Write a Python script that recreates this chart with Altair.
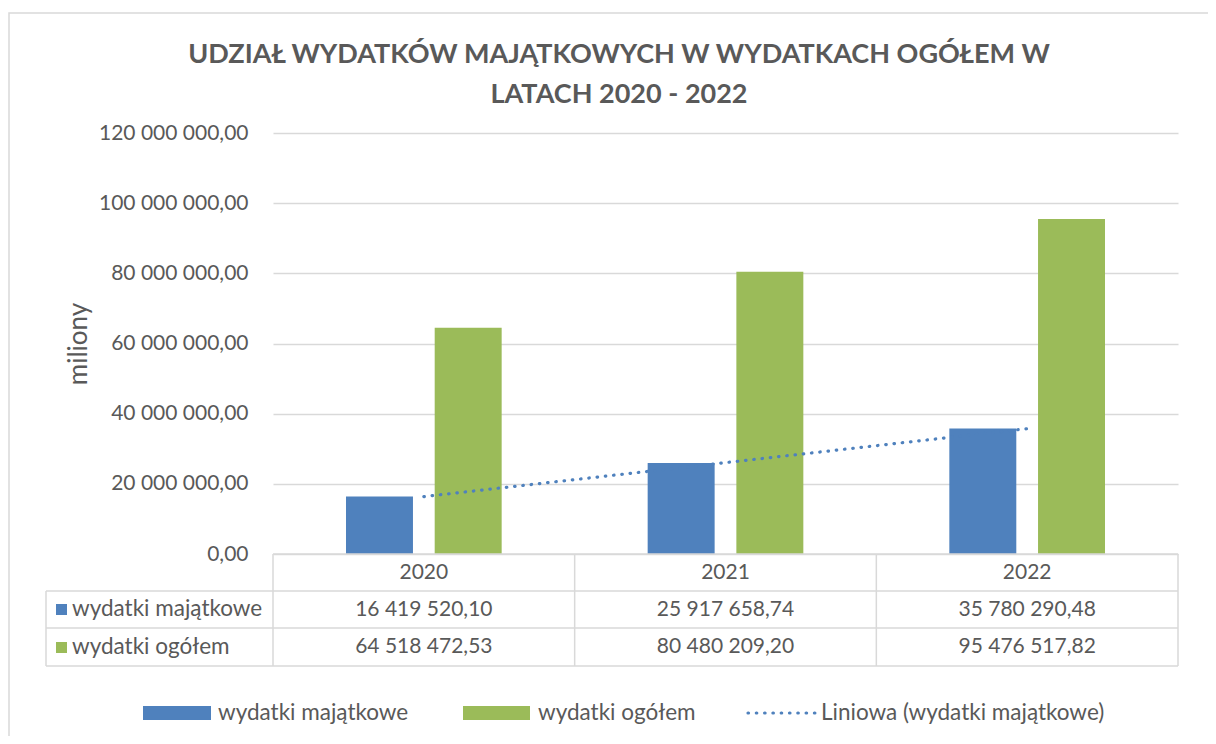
import altair as alt
import pandas as pd

# ---- data ----
years = ["2020", "2021", "2022"]
series_names = ["wydatki majątkowe", "wydatki ogółem"]
wydatki_majatkowe = [16419520.10, 25917658.74, 35780290.48]
wydatki_ogolem = [64518472.53, 80480209.20, 95476517.82]
y_ticks = [0, 20000000, 40000000, 60000000, 80000000, 100000000, 120000000]
title_lines = ["UDZIAŁ WYDATKÓW MAJĄTKOWYCH W WYDATKACH OGÓŁEM W", "LATACH 2020 - 2022"]
axis_title = "miliony"
trend_label = "Liniowa (wydatki majątkowe)"

colors = ["#4F81BD", "#9BBB59"]
TXT = "#595959"
GRID = "#d9d9d9"
FONT = "Lato"
NUM_FS = 21
LAB_FS = 22.5

rows = []
for i, y in enumerate(years):
    rows.append({"year": y, "series": series_names[0], "value": wydatki_majatkowe[i]})
    rows.append({"year": y, "series": series_names[1], "value": wydatki_ogolem[i]})
df = pd.DataFrame(rows)
one = pd.DataFrame({"k": [0]})

W, H = 905, 421
fmt = "replace(replace(format(datum.value, ',.2f'), regexp(',', 'g'), ' '), '.', ',')"

xscale = alt.Scale(domain=years, paddingInner=0, paddingOuter=0)
yscale = alt.Scale(domain=[0, 120000000])
cscale = alt.Scale(domain=series_names, range=colors)

base = alt.Chart(df)

bars = base.mark_bar().encode(
    x=alt.X("year:N", scale=xscale, axis=None),
    xOffset=alt.XOffset("series:N", scale=alt.Scale(domain=series_names, paddingInner=0.245, paddingOuter=0.823)),
    y=alt.Y("value:Q", scale=yscale,
            axis=alt.Axis(values=y_ticks, labelExpr=fmt, grid=True, gridColor=GRID, gridWidth=1.3,
                          domain=False, ticks=False, labelFontSize=NUM_FS, labelColor=TXT, labelFont=FONT,
                          labelPadding=25, title=None)),
    color=alt.Color("series:N", scale=cscale, legend=None),
)

trend = (
    base.transform_filter(alt.datum.series == series_names[0])
    .transform_calculate(yr="toNumber(datum.year)")
    .transform_regression("yr", "value", method="linear", extent=[2020, 2022])
    .transform_calculate(year="toString(datum.yr)")
    .mark_line(color=colors[0], strokeWidth=3.2, strokeDash=[0.5, 7.8], strokeCap="round")
    .encode(x=alt.X("year:N", scale=xscale, axis=None), y=alt.Y("value:Q", scale=yscale))
)

# ---- data table below the plot ----
def hrule(y, x0, x1):
    return alt.Chart(one).mark_rule(color=GRID, strokeWidth=1.5).encode(
        x=alt.value(x0), x2=alt.value(x1), y=alt.value(y))

table_lines = [hrule(H, 0, W), hrule(458, -227, W), hrule(495, -227, W), hrule(533, -227, W)]
table_lines.append(alt.Chart(one).mark_rule(color=GRID, strokeWidth=1.5).encode(
    x=alt.value(-227), y=alt.value(458), y2=alt.value(533)))
vlines = alt.Chart(pd.DataFrame({"year": years})).mark_rule(color=GRID, strokeWidth=1.5).encode(
    x=alt.X("year:N", scale=xscale, axis=None, bandPosition=0), y=alt.value(H), y2=alt.value(533))
vlast = alt.Chart(pd.DataFrame({"year": [years[-1]]})).mark_rule(color=GRID, strokeWidth=1.5).encode(
    x=alt.X("year:N", scale=xscale, axis=None, bandPosition=1), y=alt.value(H), y2=alt.value(533))

year_text = alt.Chart(pd.DataFrame({"year": years})).mark_text(
    fontSize=NUM_FS, color=TXT, font=FONT, baseline="middle").encode(
    x=alt.X("year:N", scale=xscale, axis=None), text="year:N", y=alt.value(440))

def value_row(sname, ypos):
    return base.transform_filter(alt.datum.series == sname).transform_calculate(
        lab=fmt).mark_text(fontSize=NUM_FS, color=TXT, font=FONT, baseline="middle").encode(
        x=alt.X("year:N", scale=xscale, axis=None), text="lab:N", y=alt.value(ypos))

row_vals = [value_row(series_names[0], 477), value_row(series_names[1], 514)]

def key(color, x0, x1, y0, y1):
    return alt.Chart(one).mark_rect(color=color).encode(
        x=alt.value(x0), x2=alt.value(x1), y=alt.value(y0), y2=alt.value(y1))

def label(text, x, y, size=LAB_FS, **kw):
    return alt.Chart(one).mark_text(fontSize=size, color=TXT, font=FONT, align="left",
                                    baseline="middle", text=text, **kw).encode(
        x=alt.value(x), y=alt.value(y))

row_keys = [
    key(colors[0], -217, -206, 471, 482), label(series_names[0], -201, 476),
    key(colors[1], -217, -206, 509, 520), label(series_names[1], -201, 514),
]

# ---- legend at bottom ----
legend = [
    key(colors[0], -130, -62, 573, 587), label(series_names[0], -55, 580),
    key(colors[1], 190, 257, 573, 587), label(series_names[1], 265, 580),
    alt.Chart(one).mark_rule(color=colors[0], strokeWidth=3.2, strokeDash=[0.5, 7.8], strokeCap="round").encode(
        x=alt.value(475), x2=alt.value(542), y=alt.value(580)),
    label(trend_label, 548, 580),
]

# ---- title and axis title ----
titles = [
    alt.Chart(one).mark_text(fontSize=27, fontWeight="bold", color=TXT, font=FONT, align="center",
                             baseline="middle", text=title_lines[0]).encode(x=alt.value(346), y=alt.value(-78)),
    alt.Chart(one).mark_text(fontSize=27, fontWeight="bold", color=TXT, font=FONT, align="center",
                             baseline="middle", text=title_lines[1]).encode(x=alt.value(346), y=alt.value(-38)),
    alt.Chart(one).mark_text(fontSize=26, color=TXT, font=FONT, align="center", baseline="middle",
                             angle=270, text=axis_title).encode(x=alt.value(-194), y=alt.value(211)),
]

border = alt.Chart(one).mark_rect(fillOpacity=0, stroke=GRID, strokeWidth=1.5).encode(
    x=alt.value(-264), x2=alt.value(960), y=alt.value(-120), y2=alt.value(640))

chart = alt.layer(
    border, bars, trend, *table_lines, vlines, vlast, year_text, *row_vals, *row_keys, *legend, *titles
).properties(
    width=W, height=H,
    autosize=alt.AutoSizeParams(type="none"),
    padding={"left": 265, "top": 125, "right": 30, "bottom": 182},
).configure_view(stroke=None)

chart.save("out.html", embed_options={"renderer": "svg", "actions": False})
